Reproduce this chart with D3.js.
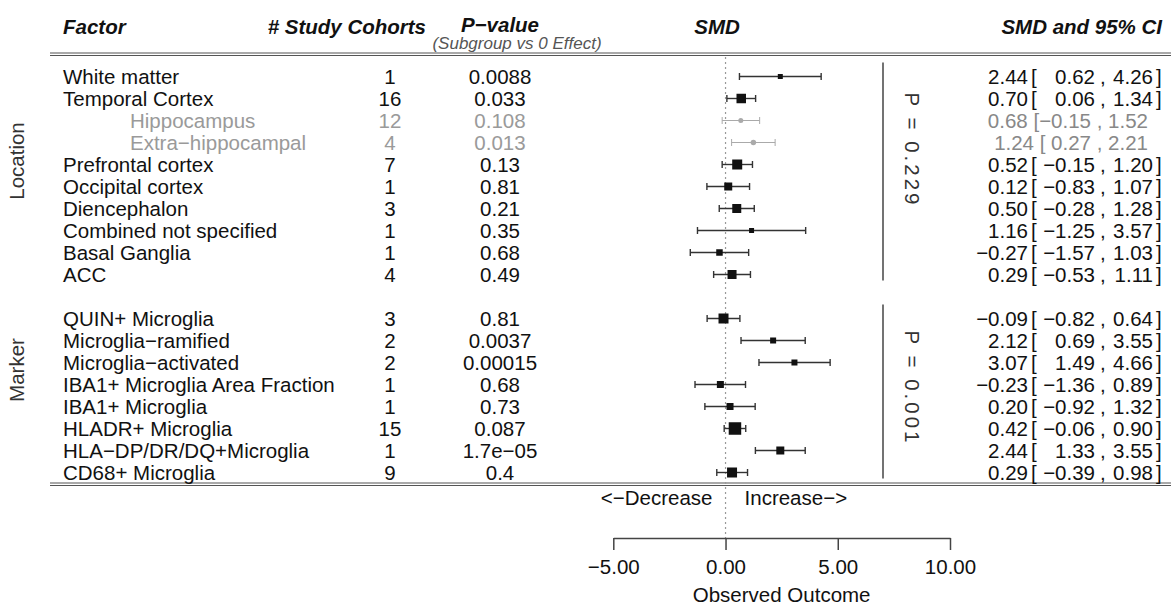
<html>
    <head>
        <meta charset="utf-8">
        <title>Forest plot</title>
        <style type="text/css">
            body{
                padding: 0px;
                margin: 0px;
                background: white;
            }
            svg{
                font-family: "Liberation Sans", Arial, Helvetica, sans-serif;
            }
            .hdr{
                font-weight: bold;
                font-style: italic;
                font-size: 20.5px;
                fill: #111;
            }
            .cell{
                font-size: 20.5px;
                fill: #111;
            }
            .sub{
                fill: #9a9a9a;
            }
        </style>
        <script src="https://cdn.jsdelivr.net/npm/d3@7" charset="utf-8"></script>
        <script type="text/javascript">
            // rows (minus sign as in the original)
            var factors = ["White matter", "Temporal Cortex", "Hippocampus", "Extra\u2212hippocampal",
                "Prefrontal cortex", "Occipital cortex", "Diencephalon", "Combined not specified",
                "Basal Ganglia", "ACC", "QUIN+ Microglia", "Microglia\u2212ramified", "Microglia\u2212activated",
                "IBA1+ Microglia Area Fraction", "IBA1+ Microglia", "HLADR+ Microglia",
                "HLA\u2212DP/DR/DQ+Microglia", "CD68+ Microglia"];
            var cohorts = [1, 16, 12, 4, 7, 1, 3, 1, 1, 4, 3, 2, 2, 1, 1, 15, 1, 9];
            var pvalues = ["0.0088", "0.033", "0.108", "0.013", "0.13", "0.81", "0.21", "0.35", "0.68", "0.49",
                "0.81", "0.0037", "0.00015", "0.68", "0.73", "0.087", "1.7e\u221205", "0.4"];
            var smd = [2.44, 0.70, 0.68, 1.24, 0.52, 0.12, 0.50, 1.16, -0.27, 0.29,
                -0.09, 2.12, 3.07, -0.23, 0.20, 0.42, 2.44, 0.29];
            var lower = [0.62, 0.06, -0.15, 0.27, -0.15, -0.83, -0.28, -1.25, -1.57, -0.53,
                -0.82, 0.69, 1.49, -1.36, -0.92, -0.06, 1.33, -0.39];
            var upper = [4.26, 1.34, 1.52, 2.21, 1.20, 1.07, 1.28, 3.57, 1.03, 1.11,
                0.64, 3.55, 4.66, 0.89, 1.32, 0.90, 3.55, 0.98];
            var weights = [5, 9.5, 5, 5.5, 10, 8, 9, 5, 6.5, 9, 10, 6, 6, 7, 7, 12.5, 8, 10];
            var isSub = [0, 0, 1, 1, 0, 0, 0, 0, 0, 0, 0, 0, 0, 0, 0, 0, 0, 0];
            var groupNames = ["Location", "Marker"];
            var groupP = ["P = 0.229", "P = 0.001"];
            var groupFirst = [0, 10];
            var groupLast = [9, 17];
            var axisTicks = [-5, 0, 5, 10];

            window.onload = function() {
                var W = 1171, H = 603;
                var svg = d3.select("body").append("svg").attr("width", W).attr("height", H);

                var x = d3.scaleLinear().domain([-5, 10]).range([613.3, 950]);
                // one empty row between the two groups
                var rowIdx = factors.map(function(d, i){ return i < 10 ? i : i + 1; });
                var y = d3.scaleLinear().domain([0, 18]).range([76.5, 472.5]);
                var f2 = d3.format(".2f");

                var rows = factors.map(function(d, i){
                    return {name: d, n: cohorts[i], p: pvalues[i], est: smd[i], lo: lower[i], hi: upper[i],
                        w: weights[i], sub: isSub[i], yy: y(rowIdx[i])};
                });

                // headers
                svg.append("text").attr("class", "hdr").attr("x", 63).attr("y", 34).text("Factor");
                svg.append("text").attr("class", "hdr").attr("x", 426).attr("y", 34)
                    .attr("text-anchor", "end").text("# Study Cohorts");
                svg.append("text").attr("class", "hdr").attr("x", 500).attr("y", 32)
                    .attr("text-anchor", "middle").text("P\u2212value");
                svg.append("text").attr("x", 517).attr("y", 49).attr("text-anchor", "middle")
                    .style("font-style", "italic").style("font-size", "17px").style("fill", "#555")
                    .text("(Subgroup vs 0 Effect)");
                svg.append("text").attr("class", "hdr").attr("x", 717).attr("y", 34)
                    .attr("text-anchor", "middle").text("SMD");
                svg.append("text").attr("class", "hdr").attr("x", 1162).attr("y", 34)
                    .attr("text-anchor", "end").text("SMD and 95% CI");

                // double rules
                [53, 55.5, 483, 485.5].forEach(function(yy){
                    svg.append("line").attr("x1", 50).attr("x2", W).attr("y1", yy).attr("y2", yy)
                        .attr("stroke", "#555").attr("stroke-width", 1.2);
                });

                // zero line
                svg.append("line").attr("x1", x(0)).attr("x2", x(0)).attr("y1", 57).attr("y2", 538)
                    .attr("stroke", "#999").attr("stroke-width", 1.2).attr("stroke-dasharray", "2,3");

                // group labels on the left
                groupNames.forEach(function(g, k){
                    var cy = k == 0 ? 161 : 370;
                    svg.append("text").attr("class", "cell").attr("text-anchor", "middle")
                        .attr("transform", "translate(24," + cy + ") rotate(-90)")
                        .style("fill", "#333").text(g);
                });

                var r = svg.selectAll("g.row").data(rows).enter().append("g").attr("class", "row");

                r.append("text").attr("class", function(d){ return d.sub ? "cell sub" : "cell"; })
                    .attr("x", function(d){ return d.sub ? 130 : 63; })
                    .attr("y", function(d){ return d.yy + 7.5; })
                    .text(function(d){ return d.name; });
                r.append("text").attr("class", function(d){ return d.sub ? "cell sub" : "cell"; })
                    .attr("x", 390).attr("text-anchor", "middle")
                    .attr("y", function(d){ return d.yy + 7.5; })
                    .text(function(d){ return d.n; });
                r.append("text").attr("class", function(d){ return d.sub ? "cell sub" : "cell"; })
                    .attr("x", 500).attr("text-anchor", "middle")
                    .attr("y", function(d){ return d.yy + 7.5; })
                    .text(function(d){ return d.p; });

                // CI lines and caps
                r.append("line")
                    .attr("x1", function(d){ return x(d.lo); }).attr("x2", function(d){ return x(d.hi); })
                    .attr("y1", function(d){ return d.yy; }).attr("y2", function(d){ return d.yy; })
                    .attr("stroke", function(d){ return d.sub ? "#aaa" : "#333"; })
                    .attr("stroke-width", function(d){ return d.sub ? 1 : 1.4; });
                ["lo", "hi"].forEach(function(k){
                    r.append("line")
                        .attr("x1", function(d){ return x(d[k]); }).attr("x2", function(d){ return x(d[k]); })
                        .attr("y1", function(d){ return d.yy - 3.5; }).attr("y2", function(d){ return d.yy + 3.5; })
                        .attr("stroke", function(d){ return d.sub ? "#aaa" : "#333"; })
                        .attr("stroke-width", function(d){ return d.sub ? 1 : 1.4; });
                });
                // point estimates
                r.filter(function(d){ return !d.sub; }).append("rect")
                    .attr("x", function(d){ return x(d.est) - d.w / 2; })
                    .attr("y", function(d){ return d.yy - d.w / 2; })
                    .attr("width", function(d){ return d.w; }).attr("height", function(d){ return d.w; })
                    .attr("fill", "#111");
                r.filter(function(d){ return d.sub; }).append("circle")
                    .attr("cx", function(d){ return x(d.est); }).attr("cy", function(d){ return d.yy; })
                    .attr("r", function(d){ return d.w / 2; }).attr("fill", "#aaa");

                // estimate and CI text
                var main = r.filter(function(d){ return !d.sub; });
                var ty = function(d){ return d.yy + 7.5; };
                main.append("text").attr("class", "cell").attr("x", 1028).attr("y", ty)
                    .attr("text-anchor", "end").text(function(d){ return f2(d.est); });
                main.append("text").attr("class", "cell").attr("x", 1031).attr("y", ty).text("[");
                main.append("text").attr("class", "cell").attr("x", 1095).attr("y", ty)
                    .attr("text-anchor", "end").text(function(d){ return f2(d.lo); });
                main.append("text").attr("class", "cell").attr("x", 1100).attr("y", ty).text(",");
                main.append("text").attr("class", "cell").attr("x", 1153).attr("y", ty)
                    .attr("text-anchor", "end").text(function(d){ return f2(d.hi); });
                main.append("text").attr("class", "cell").attr("x", 1156).attr("y", ty).text("]");
                r.filter(function(d){ return d.sub; }).append("text").attr("class", "cell sub")
                    .attr("x", 1148).attr("y", ty).attr("text-anchor", "end")
                    .style("fill", "#888")
                    .text(function(d){ return f2(d.est) + " [" + (d.lo < 0 ? "" : " ") + f2(d.lo) + " , " + f2(d.hi); });

                // group brackets and heterogeneity p
                groupNames.forEach(function(g, k){
                    var y0 = y(rowIdx[groupFirst[k]]) - 14, y1 = y(rowIdx[groupLast[k]]) + 6;
                    svg.append("line").attr("x1", 883).attr("x2", 883).attr("y1", y0).attr("y2", y1)
                        .attr("stroke", "#444").attr("stroke-width", 1.5);
                    var cy = k == 0 ? 150 : 388;
                    svg.append("text").attr("class", "cell").attr("text-anchor", "middle")
                        .style("letter-spacing", "3px").style("fill", "#333")
                        .attr("transform", "translate(905," + cy + ") rotate(90)")
                        .text(groupP[k]);
                });

                // direction labels
                svg.append("text").attr("class", "cell").attr("x", x(0) - 13).attr("y", 505)
                    .attr("text-anchor", "end").text("<\u2212Decrease");
                svg.append("text").attr("class", "cell").attr("x", x(0) + 19).attr("y", 505)
                    .text("Increase\u2212>");

                // x axis
                var ax = svg.append("g").attr("transform", "translate(0,538)")
                    .call(d3.axisBottom(x).tickValues(axisTicks).tickFormat(f2)
                        .tickSize(12).tickSizeOuter(0).tickPadding(9));
                ax.attr("font-family", null).attr("font-size", null);
                ax.selectAll("path, line").attr("stroke", "#444").attr("stroke-width", 1.5);
                ax.selectAll("text").attr("class", "cell").attr("fill", null);
                svg.append("text").attr("class", "cell").attr("x", (x(-5) + x(10)) / 2).attr("y", 602)
                    .attr("text-anchor", "middle").text("Observed Outcome");
            }
        </script>
    </head>
    <body>
    </body>
</html>
